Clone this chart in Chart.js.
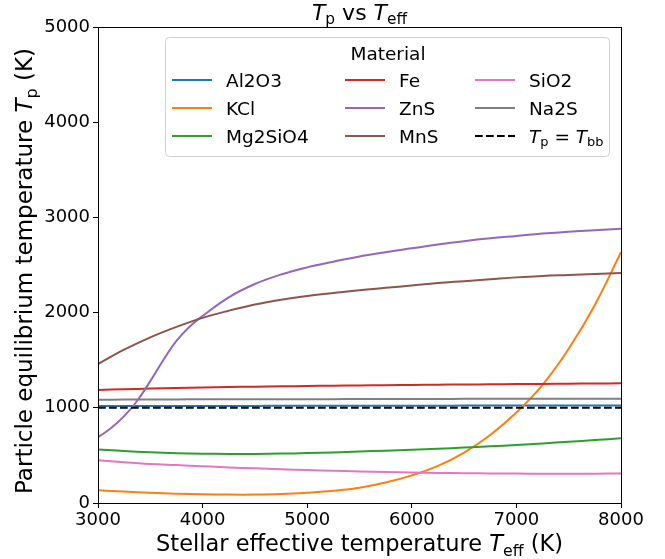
<!DOCTYPE html>
<html>
<head>
<meta charset="utf-8">
<script src="https://cdn.jsdelivr.net/npm/chart.js@4"></script>
<style>
  html, body { margin: 0; padding: 0; background: #fff; }
</style>
</head>
<body>
<canvas id="grafica" width="665" height="559"></canvas>
<script>
// Datos
const temperaturas = [3000, 3250, 3500, 3750, 4000, 4250, 4500, 4750, 5000, 5250, 5500,
                      5750, 6000, 6250, 6500, 6750, 7000, 7250, 7500, 7750, 8000];
// ZnS cambia rápido al principio: más puntos ahí
const temperaturasZnS = [3000, 3125, 3250, 3375, 3500, 3625, 3750, 3875, 4000, 4250, 4500,
                         4750, 5000, 5250, 5500, 5750, 6000, 6250, 6500, 6750, 7000,
                         7250, 7500, 7750, 8000];
const al2o3   = [1018, 1018, 1019, 1019, 1020, 1020, 1020, 1021, 1021, 1021, 1022,
                 1022, 1022, 1022, 1023, 1023, 1023, 1024, 1024, 1024, 1025];
const kcl     = [135, 120, 108, 98, 92, 88, 88, 94, 108, 128, 160,
                 215, 290, 390, 530, 715, 950, 1240, 1620, 2080, 2635];
const mg2sio4 = [563, 545, 532, 523, 518, 516, 516, 519, 524, 531, 540,
                 550, 560, 570, 582, 595, 610, 626, 643, 661, 680];
const fe      = [1187, 1195, 1202, 1208, 1213, 1218, 1222, 1226, 1229, 1232, 1235,
                 1238, 1240, 1243, 1245, 1247, 1249, 1251, 1253, 1255, 1257];
const zns     = [690, 787, 912, 1074, 1280, 1502, 1702, 1852, 1964, 2160, 2300,
                 2400, 2475, 2535, 2590, 2635, 2675, 2715, 2750, 2780, 2805,
                 2830, 2850, 2865, 2880];
const mns     = [1460, 1610, 1740, 1850, 1945, 2020, 2085, 2135, 2175, 2205, 2235,
                 2260, 2285, 2310, 2330, 2350, 2370, 2385, 2395, 2405, 2415];
const sio2    = [450, 428, 410, 398, 386, 374, 364, 355, 346, 339, 332,
                 326, 320, 316, 313, 310, 309, 308, 308, 308, 310];
const na2s    = [1085, 1086, 1087, 1088, 1089, 1089, 1090, 1090, 1091, 1091, 1092,
                 1092, 1093, 1093, 1094, 1094, 1094, 1095, 1095, 1096, 1096];
const tbb     = [1000, 1000, 1000, 1000, 1000, 1000, 1000, 1000, 1000, 1000, 1000,
                 1000, 1000, 1000, 1000, 1000, 1000, 1000, 1000, 1000, 1000];

const materiales = ['Al2O3', 'KCl', 'Mg2SiO4', 'Fe', 'ZnS', 'MnS', 'SiO2', 'Na2S'];
const series = [al2o3, kcl, mg2sio4, fe, zns, mns, sio2, na2s];
const colores = ['#1f77b4', '#ff7f0e', '#2ca02c', '#d62728', '#9467bd', '#8c564b', '#e377c2', '#7f7f7f'];
const ticksX = [3000, 4000, 5000, 6000, 7000, 8000];
const ticksY = [0, 1000, 2000, 3000, 4000, 5000];

const FUENTE = '"DejaVu Sans", sans-serif';
const GUIONES = [7.7, 3.3];

// Construir los datasets
const datasets = materiales.map((nombre, i) => {
    const xs = nombre === 'ZnS' ? temperaturasZnS : temperaturas;
    return {
        label: nombre,
        data: xs.map((t, j) => ({ x: t, y: series[i][j] })),
        borderColor: colores[i],
        borderWidth: 2,
        pointRadius: 0,
        tension: 0.4,
        order: 20 - i
    };
});
datasets.push({
    label: 'Tbb',
    data: temperaturas.map((t, j) => ({ x: t, y: tbb[j] })),
    borderColor: '#000',
    borderWidth: 2,
    borderDash: GUIONES,
    pointRadius: 0,
    order: 0
});

// Texto con cursiva y subíndices (estilo mathtext)
const dibujarTexto = (ctx, partes, x, y, tam, align) => {
    const fuente = (p) => `${p.it ? 'italic ' : ''}${p.sub ? tam * 0.7 : tam}px ${FUENTE}`;
    let ancho = 0;
    partes.forEach((p) => {
        ctx.font = fuente(p);
        p.w = ctx.measureText(p.t).width;
        ancho += p.w;
    });
    let xi = align === 'center' ? x - ancho / 2 : x;
    ctx.textAlign = 'left';
    ctx.textBaseline = 'alphabetic';
    partes.forEach((p) => {
        ctx.font = fuente(p);
        ctx.fillText(p.t, xi, y + (p.sub ? tam * 0.2 : 0));
        xi += p.w;
    });
};

// Marco, títulos y leyenda
const pluginExtras = {
    id: 'extras',
    afterDatasetsDraw(chart) {
        const ctx = chart.ctx;
        const a = chart.chartArea;
        ctx.save();
        ctx.strokeStyle = '#000';
        ctx.lineWidth = 1;
        ctx.strokeRect(a.left + 0.5, a.top + 0.5, a.right - a.left, a.bottom - a.top);

        // Leyenda
        const lx = 165, ly = 37, lw = 444, lh = 119;
        ctx.beginPath();
        ctx.roundRect(lx + 0.5, ly + 0.5, lw, lh, 4);
        ctx.fillStyle = 'rgba(255,255,255,0.8)';
        ctx.fill();
        ctx.strokeStyle = '#d0d0d0';
        ctx.stroke();

        ctx.fillStyle = '#000';
        ctx.font = `18.5px ${FUENTE}`;
        ctx.textAlign = 'center';
        ctx.textBaseline = 'alphabetic';
        ctx.fillText('Material', 388, 60);

        const columnas = [172, 345, 475];
        const filas = [80, 108, 136];
        chart.data.datasets.forEach((ds, i) => {
            const cx = columnas[Math.floor(i / 3)];
            const cy = filas[i % 3];
            ctx.beginPath();
            ctx.setLineDash(ds.borderDash || []);
            ctx.strokeStyle = ds.borderColor;
            ctx.lineWidth = 2;
            ctx.moveTo(cx, cy);
            ctx.lineTo(cx + 40, cy);
            ctx.stroke();
            ctx.setLineDash([]);
            ctx.fillStyle = '#000';
            if (ds.label === 'Tbb') {
                dibujarTexto(ctx, [{ t: 'T', it: true }, { t: 'p', sub: true }, { t: ' = ' },
                                   { t: 'T', it: true }, { t: 'bb', sub: true }], cx + 54, cy + 6.7, 18.5, 'left');
            } else {
                ctx.font = `18.5px ${FUENTE}`;
                ctx.textAlign = 'left';
                ctx.fillText(ds.label, cx + 54, cy + 6.7);
            }
        });

        // Títulos
        ctx.fillStyle = '#000';
        dibujarTexto(ctx, [{ t: 'T', it: true }, { t: 'p', sub: true }, { t: ' vs ' },
                           { t: 'T', it: true }, { t: 'eff', sub: true }], (a.left + a.right) / 2, 20, 22, 'center');
        dibujarTexto(ctx, [{ t: 'Stellar effective temperature ' }, { t: 'T', it: true },
                           { t: 'eff', sub: true }, { t: ' (K)' }], (a.left + a.right) / 2, 551, 22.5, 'center');
        ctx.save();
        ctx.translate(32, 271);
        ctx.rotate(-Math.PI / 2);
        dibujarTexto(ctx, [{ t: 'Particle equilibrium temperature ' }, { t: 'T', it: true },
                           { t: 'p', sub: true }, { t: ' (K)' }], 0, 0, 23, 'center');
        ctx.restore();
        ctx.restore();
    }
};

const ejeComun = {
    type: 'linear',
    grid: { drawOnChartArea: false, tickLength: 5, tickColor: '#000', tickWidth: 1 },
    border: { color: '#000', width: 1 }
};

new Chart(document.getElementById('grafica').getContext('2d'), {
    type: 'line',
    data: { datasets: datasets },
    options: {
        responsive: false,
        animation: false,
        layout: { padding: { left: 0, right: 44, top: 27, bottom: 0 } },
        plugins: { legend: { display: false }, tooltip: { enabled: false } },
        scales: {
            x: {
                ...ejeComun,
                min: 3000,
                max: 8000,
                afterBuildTicks: (eje) => { eje.ticks = ticksX.map((v) => ({ value: v })); },
                afterFit: (eje) => { eje.height = 56; },
                ticks: { color: '#000', font: { family: FUENTE, size: 18 }, padding: 2, maxRotation: 0,
                         callback: (v) => String(v) }
            },
            y: {
                ...ejeComun,
                min: 0,
                max: 5000,
                afterBuildTicks: (eje) => { eje.ticks = ticksY.map((v) => ({ value: v })); },
                afterFit: (eje) => { eje.width = 98; },
                ticks: { color: '#000', font: { family: FUENTE, size: 18 }, padding: 3,
                         callback: (v) => String(v) }
            }
        }
    },
    plugins: [pluginExtras]
});
</script>
</body>
</html>
